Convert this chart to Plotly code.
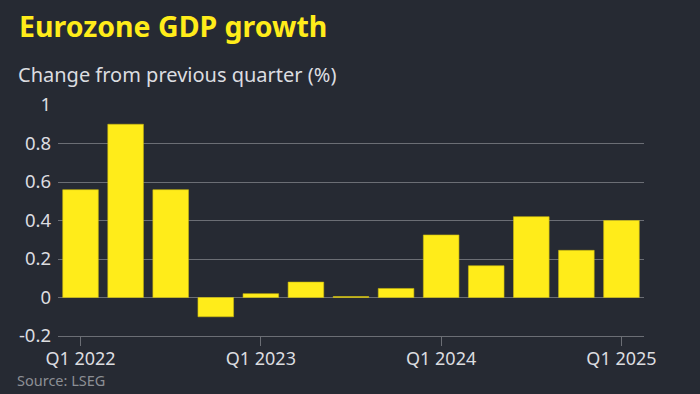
import plotly.graph_objects as go

quarters = ["Q1 2022", "Q2 2022", "Q3 2022", "Q4 2022",
            "Q1 2023", "Q2 2023", "Q3 2023", "Q4 2023",
            "Q1 2024", "Q2 2024", "Q3 2024", "Q4 2024",
            "Q1 2025"]
growth = [0.56, 0.90, 0.56, -0.10, 0.02, 0.08, 0.005, 0.047,
          0.325, 0.165, 0.42, 0.245, 0.40]
tick_labels = ["Q1 2022", "Q1 2023", "Q1 2024", "Q1 2025"]
y_ticks = [-0.2, 0, 0.2, 0.4, 0.6, 0.8, 1]

BG = "#262a33"
YELLOW = "#ffec1a"
GRID = "#6b6e75"
TEXT = "#dcdde0"
FONT = "Noto Sans"

fig = go.Figure(go.Bar(
    x=quarters, y=growth,
    marker=dict(color=YELLOW, line=dict(color="#c9b80f", width=0.6)),
))

L, R, T, B = 58, 56, 105, 58
W, H = 700, 394
pw, ph = W - L - R, H - T - B

def px_x(p):
    return (p - L) / pw

def px_y(p):
    return (H - B - p) / ph

fig.update_layout(
    width=W, height=H,
    margin=dict(l=L, r=R, t=T, b=B),
    paper_bgcolor=BG, plot_bgcolor=BG,
    bargap=0.21,
    showlegend=False,
    font=dict(family=FONT, color=TEXT, size=18),
    xaxis=dict(
        type="category",
        categoryorder="array", categoryarray=quarters,
        tickmode="array", tickvals=tick_labels, ticktext=tick_labels,
        ticks="outside", ticklen=9, tickwidth=1, tickcolor=GRID,
        showline=True, linecolor=GRID, linewidth=1,
        showgrid=False, zeroline=False,
        ticklabelstandoff=-3,
        tickfont=dict(family=FONT, size=18, color=TEXT),
        range=[-0.5, 12.5],
    ),
    yaxis=dict(
        range=[-0.2, 1.0],
        tickmode="array", tickvals=y_ticks,
        ticktext=["-0.2", "0", "0.2", "0.4", "0.6", "0.8", "1"],
        showgrid=True, gridcolor=GRID, gridwidth=1,
        zeroline=True, zerolinecolor=GRID, zerolinewidth=1,
        showline=False, ticks="",
        ticklabelstandoff=6,
        tickfont=dict(family=FONT, size=18.5, color=TEXT),
    ),
    annotations=[
        dict(text="<b>Eurozone GDP growth</b>", xref="paper", yref="paper",
             x=px_x(17), y=px_y(26), xanchor="left", yanchor="middle",
             showarrow=False, font=dict(family=FONT, size=28.5, color=YELLOW)),
        dict(text="Change from previous quarter (%)", xref="paper", yref="paper",
             x=px_x(16), y=px_y(74), xanchor="left", yanchor="middle",
             showarrow=False, font=dict(family=FONT, size=20, color=TEXT)),
        dict(text="Source: LSEG", xref="paper", yref="paper",
             x=px_x(15), y=px_y(380), xanchor="left", yanchor="middle",
             showarrow=False, font=dict(family=FONT, size=14.5, color="#8c8f95")),
    ],
)

fig.write_html(
    "out.html",
    config={"displayModeBar": False},
    post_script="document.body.style.margin='0';document.body.style.padding='0';"
                "document.body.style.overflow='hidden';",
)
